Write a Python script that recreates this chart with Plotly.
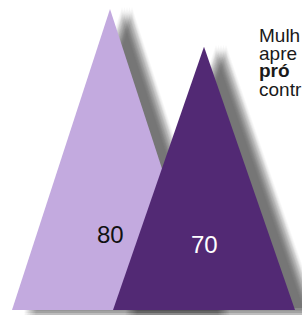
import plotly.graph_objects as go

# data
categories = ["A", "B"]
values = [80, 70]
value_labels = ["80", "70"]
text_lines = ["Mulh", "apre", "pró", "contr"]

# style
centers = [110, 204]
half_widths = [98, 91]
fills = ["#C3AADF", "#522974"]
label_colors = ["#111111", "#FFFFFF"]

W, H = 302, 315
base_px, top_px = 310, 9
k = (base_px - top_px) / max(values)  # px per unit

fig = go.Figure()

def tri(cx, hw, v, dx=0.0, dy_px=0.0):
    dy = dy_px / k
    xs = [cx - hw + dx, cx + dx, cx + hw + dx, cx - hw + dx]
    ys = [0 - dy, v - dy, 0 - dy, 0 - dy]
    return xs, ys

offs = [-5, -2.5, 0, 2.5, 5]
alpha = 1 - 0.5 ** (1 / (len(offs) ** 2))
for cat, v, cx, hw, col in zip(categories, values, centers, half_widths, fills):
    for ox in offs:
        for oy in offs:
            xs, ys = tri(cx, hw, v, 17 + ox, 3 + oy)
            fig.add_trace(go.Scatter(x=xs, y=ys, mode="lines", fill="toself",
                                     fillcolor=f"rgba(0,0,0,{alpha:.4f})", line=dict(width=0),
                                     hoverinfo="skip", showlegend=False))
    xs, ys = tri(cx, hw, v)
    fig.add_trace(go.Scatter(x=xs, y=ys, mode="lines", fill="toself", fillcolor=col,
                             line=dict(width=0), name=cat, showlegend=False))

for v, cx, lab, lc in zip(values, centers, value_labels, label_colors):
    fig.add_annotation(x=cx, y=v * 0.25, xref="x", yref="y", text=lab, showarrow=False,
                       font=dict(family="Liberation Sans", size=24, color=lc),
                       xanchor="center", yanchor="middle")

line_y = [35, 53, 71, 89]
for t, py in zip(text_lines, line_y):
    txt = f"<b>{t}</b>" if t == "pró" else t
    fig.add_annotation(x=259, y=1 - py / H, xref="x", yref="paper", text=txt, showarrow=False,
                       font=dict(family="Liberation Sans", size=19, color="#1a1a1a"),
                       xanchor="left", yanchor="middle", borderpad=0, borderwidth=0)

fig.update_layout(
    width=W, height=H, margin=dict(l=0, r=0, t=0, b=0),
    paper_bgcolor="white", plot_bgcolor="white",
    xaxis=dict(range=[0, W], visible=False, fixedrange=True),
    yaxis=dict(range=[-(H - base_px) / k, base_px / k], visible=False, fixedrange=True),
)

fig.write_html("out.html", config={"displayModeBar": False},
               post_script="document.body.style.margin='0';document.body.style.overflow='hidden';")
